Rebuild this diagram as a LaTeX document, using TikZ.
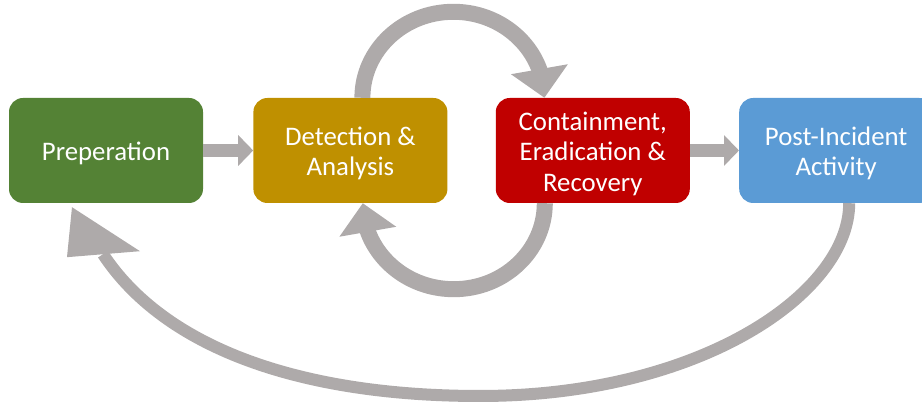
\documentclass[tikz,border=0pt]{standalone}
\usepackage{fontspec}
\setmainfont{Carlito}
\usetikzlibrary{positioning, arrows.meta, bending}
\definecolor{prepgreen}{HTML}{548235}
\definecolor{detectgold}{HTML}{BF9000}
\definecolor{containred}{HTML}{C00000}
\definecolor{postblue}{HTML}{5B9BD5}
\definecolor{flowgray}{HTML}{AEAAAA}

\begin{document}
\begin{tikzpicture}[x=1pt, y=1pt,
    phase/.style={rectangle, rounded corners=14pt, minimum width=194pt, minimum height=105pt, inner sep=0pt},
    phasetext/.style={text=white, align=center, yshift=-3pt, font=\fontsize{26.8}{30.5}\selectfont},
    flowarrow/.style={draw=flowgray, line width=13pt, -{Triangle[width=30pt, length=15pt]}},
    cyclearrow/.style={draw=flowgray, line width=16pt, -{Triangle[width=56pt, length=29pt]}}]
    \useasboundingbox (0, 0) rectangle (922, 403);
    % the four phases
    \node[phase, fill=prepgreen, label={[phasetext]center:Preperation}] (prep) at (106, 252.5) {};
    \node[phase, fill=detectgold, right=50pt of prep,
        label={[phasetext]center:{Detection \&\\Analysis}}] (detect) {};
    \node[phase, fill=containred, right=48pt of detect,
        label={[phasetext]center:{Containment,\\Eradication \&\\Recovery}}] (contain) {};
    \node[phase, fill=postblue, right=49pt of contain,
        label={[phasetext]center:{Post-Incident\\Activity}}] (post) {};
    \draw[flowarrow] (prep) -- (detect);
    \draw[flowarrow] (contain) -- (post);
    % loop between detection and containment
    \draw[cyclearrow] ([xshift=12pt]detect.north) arc[start angle=180, end angle=0, x radius=91pt, y radius=86pt];
    \draw[cyclearrow] ([xshift=-48pt]contain.south) arc[start angle=0, end angle=-180, x radius=91pt, y radius=86pt];
    % back to the start
    \draw[flowgray, line width=12pt]
        ([xshift=13pt]post.south) .. controls +(0, -90) and (700, 7) .. (480, 7)
        .. controls (300, 7) and (165, 55) .. ([xshift=-3pt, yshift=-51pt]prep.south);
    \fill[flowgray] ([xshift=-34pt, yshift=-4pt]prep.south) -- ([xshift=-39pt, yshift=-54pt]prep.south)
        -- ([xshift=34pt, yshift=-48pt]prep.south) -- cycle;
\end{tikzpicture}
\end{document}
